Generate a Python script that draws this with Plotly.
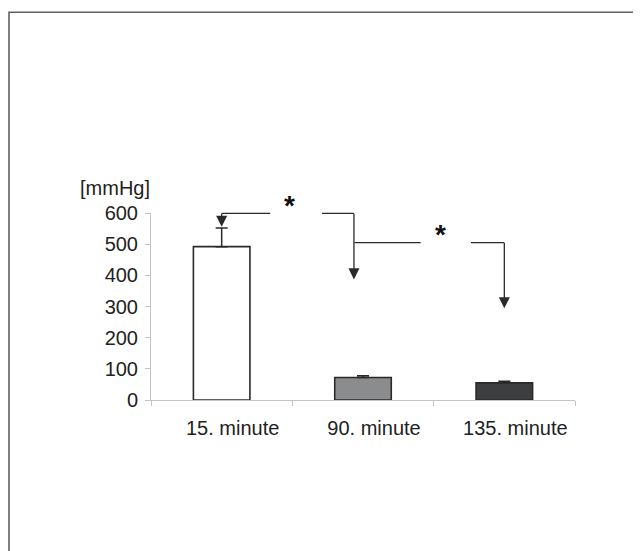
import plotly.graph_objects as go

# ---- data ----
categories = ["15. minute", "90. minute", "135. minute"]
means = [492, 72, 55]
errors_plus = [60, 6, 5]
bar_colors = ["#ffffff", "#8b8c8e", "#3d3e40"]
y_ticks = [0, 100, 200, 300, 400, 500, 600]
y_unit = "[mmHg]"

FONT = "Liberation Sans, Arial, sans-serif"
LINE = "#2a2a2a"
AXC = "#c4c4c4"

fig = go.Figure()
fig.add_trace(go.Bar(
    x=categories, y=means,
    marker=dict(color=bar_colors, line=dict(color=LINE, width=1.6)),
    error_y=dict(type="data", symmetric=False, array=errors_plus,
                 arrayminus=[0] * len(means), color=LINE, thickness=1.5, width=6),
    showlegend=False,
))

# page body has an 8px margin, so the figure is sized to fit the window
W, H = 633, 543
L, R, T, B = 143, 66, 205, 151

annotations = []

def seg(x0, y0, x1, y1, head=0):
    annotations.append(dict(
        x=x1, y=y1, ax=x0, ay=y0, xref="x", yref="y", axref="x", ayref="y",
        text="", showarrow=True, arrowhead=head, arrowsize=1.7 if head else 1,
        arrowwidth=1.3, arrowcolor=LINE, standoff=0, startstandoff=0, borderpad=0,
    ))

# bracket 1 (15 -> 90 min)
seg(0.347, 599, 0.0, 599)
seg(0.0, 599, 0.0, 556, head=2)
seg(0.707, 599, 0.936, 599)
seg(0.936, 599, 0.936, 387, head=2)
# bracket 2 (90 -> 135 min)
seg(0.936, 505, 1.408, 505)
seg(1.76, 505, 2.0, 505)
seg(2.0, 505, 2.0, 294, head=2)

for sx, sy in [(0.48, 599), (1.55, 505)]:
    annotations.append(dict(x=sx, y=sy, xref="x", yref="y", text="<b>*</b>",
                            showarrow=False, yanchor="middle", yshift=8,
                            font=dict(family=FONT, size=28, color="#111")))

annotations.append(dict(x=0, y=1, xref="paper", yref="paper", text=y_unit,
                        showarrow=False, xanchor="right", yanchor="bottom",
                        xshift=1, yshift=12,
                        font=dict(family=FONT, size=20, color="#222")))

fig.update_layout(
    width=W, height=H,
    margin=dict(l=L, r=R, t=T, b=B, pad=0),
    paper_bgcolor="white", plot_bgcolor="white",
    bargap=0.6,
    font=dict(family=FONT, size=20, color="#222"),
    annotations=annotations,
    shapes=[dict(type="rect", xref="paper", yref="paper",
                 x0=(1 - L) / (W - L - R), x1=1.3,
                 y0=-1.0, y1=(H - B - 4.3) / (H - T - B),
                 line=dict(color="#606060", width=1.6), fillcolor="rgba(0,0,0,0)")],
)
fig.update_xaxes(type="category", showline=True, linecolor=AXC, linewidth=1,
                 ticks="outside", tickson="boundaries", ticklen=5, tickcolor=AXC,
                 showgrid=False, zeroline=False, ticklabelshift=11,
                 ticklabelstandoff=10,
                 tickfont=dict(family=FONT, size=20, color="#222"))
fig.update_yaxes(range=[0, 600], tickvals=y_ticks, showline=True, linecolor=AXC,
                 linewidth=1, ticks="outside", ticklen=5, tickcolor=AXC,
                 showgrid=False, zeroline=False, ticklabelstandoff=3,
                 tickfont=dict(family=FONT, size=20, color="#222"))

fig.write_html("out.html")
